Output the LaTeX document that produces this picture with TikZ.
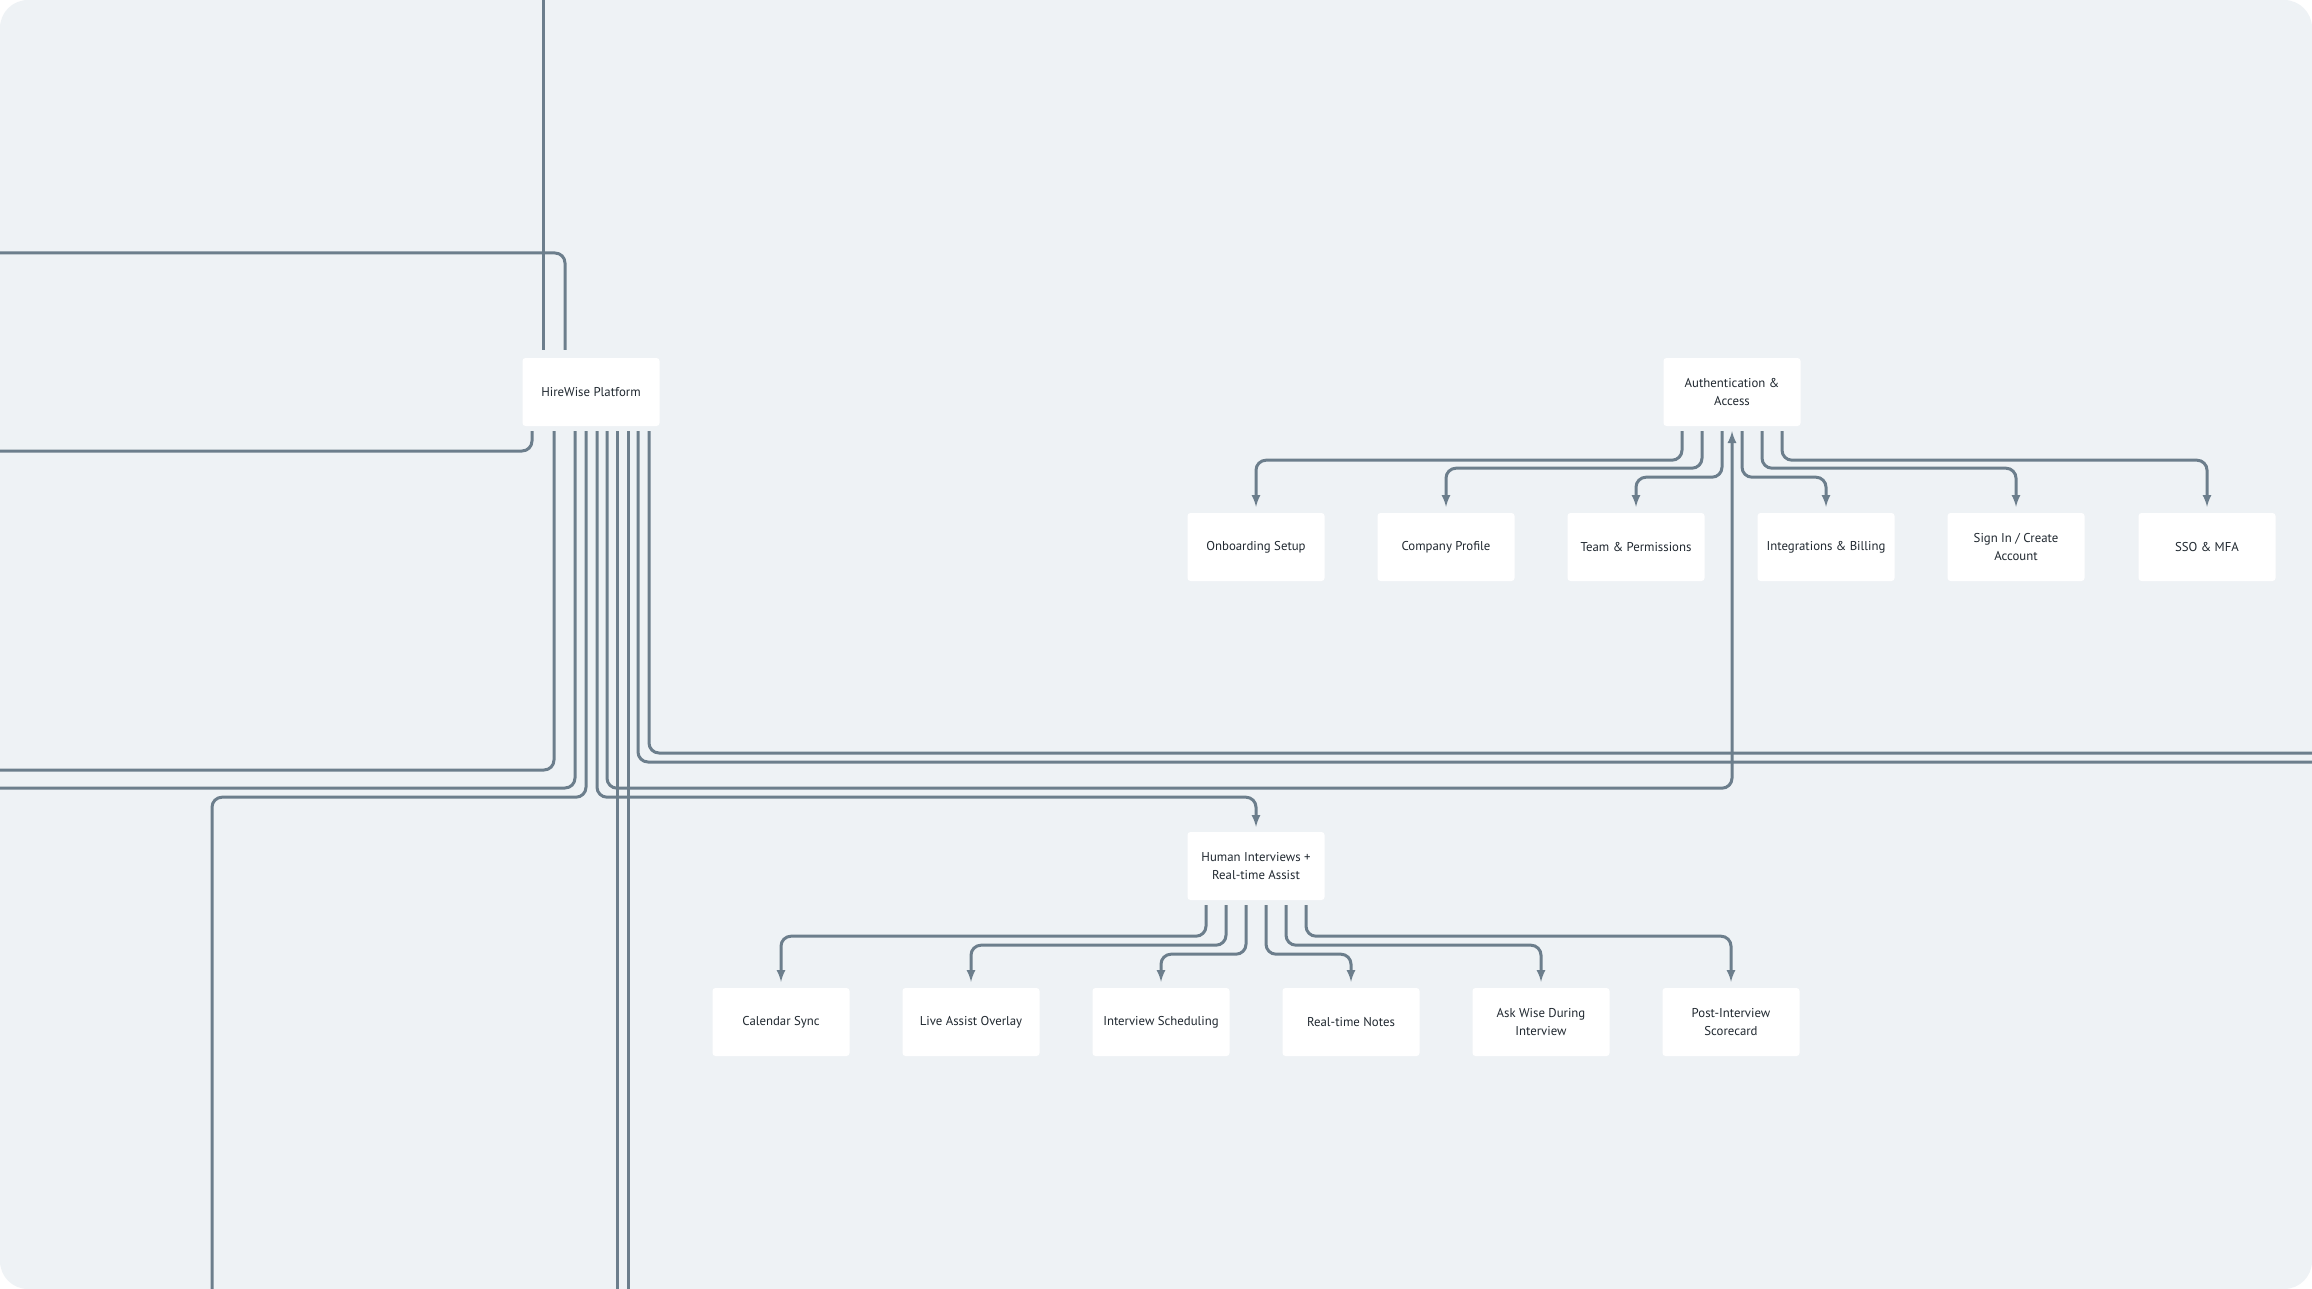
\documentclass[tikz,border=0pt]{standalone}
\usepackage{fontspec}
\setmainfont{PT Sans}
\usepackage{xcolor}
\usetikzlibrary{arrows}
\definecolor{mybg}{RGB}{238,242,245}
\definecolor{mywire}{RGB}{108,126,140}
\definecolor{mytext}{RGB}{32,40,48}

\begin{document}
\begin{tikzpicture}[x=1pt,y=-1pt,
  box/.style={fill=white,rounded corners=3pt,minimum width=137pt,minimum height=68pt,
    inner sep=0pt,align=center,text=mytext,font=\fontsize{12.8}{18}\selectfont},
  wire/.style={draw=mywire,line width=3pt,rounded corners=10pt},
  feed/.style={wire,-latex}]

\useasboundingbox (0,0) rectangle (2312,1289);
\fill[white] (0,0) rectangle (2312,1289);
\fill[mybg,rounded corners=28pt] (0,0) rectangle (2312,1289);

% free ends at the border
\coordinate (topin) at (543,0);
\coordinate (leftA) at (0,253);
\coordinate (leftB) at (0,451);
\coordinate (leftC) at (0,770);
\coordinate (leftD) at (0,788);
\coordinate (botA) at (212,1289);
\coordinate (botB) at (617,1289);
\coordinate (botC) at (628,1289);
\coordinate (rightA) at (2312,753);
\coordinate (rightB) at (2312,762);

\node[box] (hire) at (591,392) {HireWise Platform};
\node[box] (auth) at (1732,392) {Authentication \&\\Access};

\node[box] (onb) at (1256,547) {Onboarding Setup};
\node[box] (comp) at (1446,547) {Company Profile};
\node[box] (team) at (1636,547) {Team \& Permissions};
\node[box] (integ) at (1826,547) {Integrations \& Billing};
\node[box] (sign) at (2016,547) {Sign In / Create\\Account};
\node[box] (sso) at (2207,547) {SSO \& MFA};

\node[box] (human) at (1256,866) {Human Interviews +\\Real-time Assist};

\node[box] (cal) at (781,1022) {Calendar Sync};
\node[box] (live) at (971,1022) {Live Assist Overlay};
\node[box] (sched) at (1161,1022) {Interview Scheduling};
\node[box] (notes) at (1351,1022) {Real-time Notes};
\node[box] (ask) at (1541,1022) {Ask Wise During\\Interview};
\node[box] (post) at (1731,1022) {Post-Interview\\Scorecard};

% platform
\draw[wire] (topin) -- ([xshift=-48pt,yshift=8pt]hire.north);
\draw[wire] (leftA) -| ([xshift=-26pt,yshift=8pt]hire.north);
\draw[wire] ([xshift=-59pt,yshift=-5pt]hire.south) |- (leftB);
\draw[wire] ([xshift=-37pt,yshift=-5pt]hire.south) |- (leftC);
\draw[wire] ([xshift=-16pt,yshift=-5pt]hire.south) |- (leftD);
\draw[wire] ([xshift=-5pt,yshift=-5pt]hire.south) -- ++(0,366) -| (botA);
\draw[feed] ([xshift=6pt,yshift=-5pt]hire.south) -- ++(0,366) -| ([yshift=5pt]human.north);
\draw[feed] ([xshift=16pt,yshift=-5pt]hire.south) -- ++(0,357) -| ([yshift=-5pt]auth.south);
\draw[wire] ([xshift=26pt,yshift=-5pt]hire.south) -- (botB);
\draw[wire] ([xshift=37pt,yshift=-5pt]hire.south) -- (botC);
\draw[wire] ([xshift=47pt,yshift=-5pt]hire.south) |- (rightB);
\draw[wire] ([xshift=58pt,yshift=-5pt]hire.south) |- (rightA);

% authentication
\draw[feed] ([xshift=-50pt,yshift=-5pt]auth.south) -- ++(0,29) -| ([yshift=6pt]onb.north);
\draw[feed] ([xshift=-30pt,yshift=-5pt]auth.south) -- ++(0,37) -| ([yshift=6pt]comp.north);
\draw[feed] ([xshift=-10pt,yshift=-5pt]auth.south) -- ++(0,46) -| ([yshift=6pt]team.north);
\draw[feed] ([xshift=10pt,yshift=-5pt]auth.south) -- ++(0,46) -| ([yshift=6pt]integ.north);
\draw[feed] ([xshift=30pt,yshift=-5pt]auth.south) -- ++(0,37) -| ([yshift=6pt]sign.north);
\draw[feed] ([xshift=50pt,yshift=-5pt]auth.south) -- ++(0,29) -| ([yshift=6pt]sso.north);

% interviews
\draw[feed] ([xshift=-50pt,yshift=-5pt]human.south) -- ++(0,31) -| ([yshift=6pt]cal.north);
\draw[feed] ([xshift=-30pt,yshift=-5pt]human.south) -- ++(0,40) -| ([yshift=6pt]live.north);
\draw[feed] ([xshift=-10pt,yshift=-5pt]human.south) -- ++(0,49) -| ([yshift=6pt]sched.north);
\draw[feed] ([xshift=10pt,yshift=-5pt]human.south) -- ++(0,49) -| ([yshift=6pt]notes.north);
\draw[feed] ([xshift=30pt,yshift=-5pt]human.south) -- ++(0,40) -| ([yshift=6pt]ask.north);
\draw[feed] ([xshift=50pt,yshift=-5pt]human.south) -- ++(0,31) -| ([yshift=6pt]post.north);

\end{tikzpicture}
\end{document}
